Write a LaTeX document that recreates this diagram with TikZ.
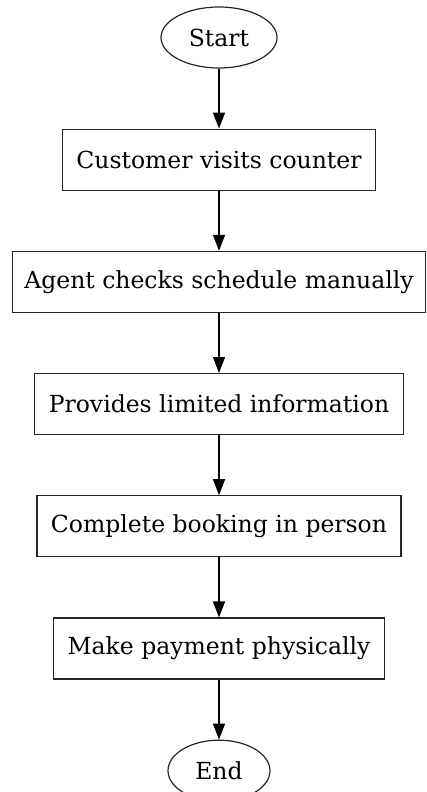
\documentclass[tikz,border=0pt]{standalone}
\usepackage{fontspec}
\setmainfont{DejaVu Serif}
\usetikzlibrary{arrows.meta,positioning,shapes.geometric}

\begin{document}
\begin{tikzpicture}[
    x=1pt, y=1pt,
    font=\fontsize{23.5}{28}\selectfont,
    node distance=60pt,
    proc/.style={rectangle, draw=black!85, line width=1.2pt, minimum height=61pt, inner xsep=14pt},
    term/.style={ellipse, draw=black!85, line width=1.2pt, minimum height=61pt, inner sep=0pt},
    arr/.style={-{Triangle[length=16pt, width=12pt]}, line width=1.4pt},
  ]
    \useasboundingbox (0,0) rectangle (426,-792);

    \node[term, minimum width=116pt] (start) at (219,-37.5) {Start};
    \node[proc, below=of start] (visit) {Customer visits counter};
    % widest box, keep its right edge inside the page
    \node[proc, inner xsep=11.5pt, below=of visit] (check) {Agent checks schedule manually};
    \node[proc, below=of check] (info) {Provides limited information};
    \node[proc, below=of info] (book) {Complete booking in person};
    \node[proc, below=of book] (pay) {Make payment physically};
    \node[term, minimum width=102pt, below=of pay] (end) {End};

    \draw[arr] (start) -- (visit);
    \draw[arr] (visit) -- (check);
    \draw[arr] (check) -- (info);
    \draw[arr] (info) -- (book);
    \draw[arr] (book) -- (pay);
    \draw[arr] (pay) -- (end);
  \end{tikzpicture}
\end{document}
